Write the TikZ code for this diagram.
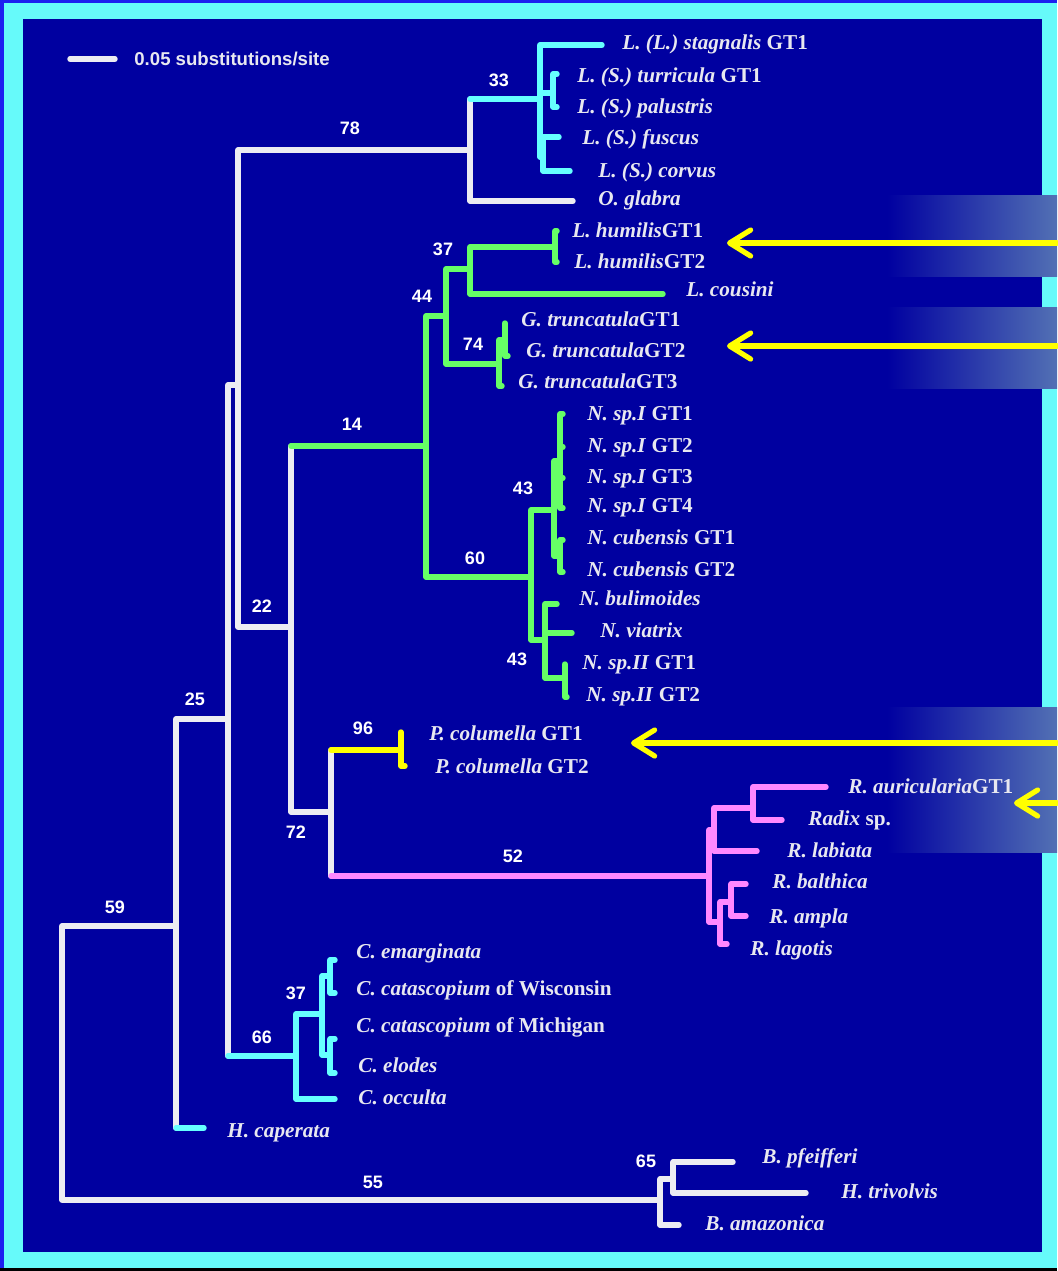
\documentclass[tikz,border=0pt]{standalone}
\usepackage{xcolor}
\usepackage{fontspec}
\setmainfont{Liberation Serif}
\setsansfont{Liberation Sans}
\usepackage{tikz}
\usetikzlibrary{arrows.meta, calc, positioning}

\definecolor{bgblue}{RGB}{0,0,160}
\definecolor{rimblue}{RGB}{28,32,240}
\definecolor{rimcyan}{RGB}{102,250,250}
\definecolor{hilite}{RGB}{82,112,180}
\definecolor{brwhite}{RGB}{236,236,242}
\definecolor{brcyan}{RGB}{102,255,255}
\definecolor{brgreen}{RGB}{102,255,102}
\definecolor{bryellow}{RGB}{255,255,0}
\definecolor{brpink}{RGB}{255,136,255}
\definecolor{taxtext}{RGB}{232,232,240}

\begin{document}
\begin{tikzpicture}[
    x=0.5pt, y=-0.5pt,
    br/.style={line width=2.7pt, line cap=round, line join=round},
    taxon/.style={anchor=base west, inner sep=0pt, text=taxtext, font=\fontsize{10.6}{12}\selectfont\bfseries},
    boot/.style={inner sep=0pt, text=white, font=\sffamily\bfseries\fontsize{9}{10}\selectfont},
    band/.style={left color=bgblue, right color=hilite},
    pointer/.style={draw=bryellow, line width=2.6pt, line cap=round, ->},
    >={Straight Barb[length=10.5pt, width=13pt, round]}
]
\useasboundingbox (0,0) rectangle (1057,1271);

% Frame
\fill[black] (0,0) rectangle (1057,1271);
\fill[rimblue] (0,0) rectangle (1057,1268);
\fill[rimcyan] (4,3) rectangle (1057,1268);
\fill[bgblue] (23,19) rectangle (1042,1252);

% Highlight bands
\shade[band] (887,195) rectangle (1057,276);
\shade[band] (887,307) rectangle (1057,388);
\shade[band] (887,707) rectangle (1057,852);

% Scale bar
\coordinate (sb1) at (70,59);
\coordinate (sb2) at (115,59);
\draw[br, brwhite] (sb1) -- (sb2);
\node[anchor=base west, inner sep=0pt, text=taxtext, font=\sffamily\bfseries\fontsize{9.3}{11}\selectfont] (sbtext) at (134,65) {0.05 substitutions/site};

% Backbone
\coordinate (root) at (62,1063);
\coordinate (n59) at (176,926);
\coordinate (n55) at (660,1200);
\coordinate (n25) at (228,719);
\coordinate (hcap) at (204,1128);
\coordinate (nA) at (238,385);
\coordinate (n66) at (296,1056);
\coordinate (n78) at (470,150);
\coordinate (n22) at (291,627);
\coordinate (n14) at (426,446);
\coordinate (n72) at (331,812);
\coordinate (n96) at (401,750);
\coordinate (n52) at (709,876);

\draw[br, brwhite] (root |- n59) -- (root |- n55) (root |- n59) -- (n59) (root |- n55) -- (n55);
\draw[br, brwhite] (n59 |- n25) -- (n59 |- hcap) (n59 |- n25) -- (n25);
\draw[br, brcyan] (n59 |- hcap) -- (hcap);
\draw[br, brwhite] (n25 |- nA) -- (n25 |- n66) (n25 |- nA) -- (nA);
\draw[br, brcyan] (n25 |- n66) -- (n66);
\draw[br, brwhite] (nA |- n78) -- (nA |- n22) (nA |- n78) -- (n78) (nA |- n22) -- (n22);
\draw[br, brwhite] (n22 |- n14) -- (n22 |- n72) -- (n72);
\draw[br, brgreen] (n22 |- n14) -- (n14);
\draw[br, brwhite] (n72 |- n96) -- (n72 |- n52);
\draw[br, bryellow] (n72 |- n96) -- (n96);
\draw[br, brpink] (n72 |- n52) -- (n52);

% Top clade (78)
\coordinate (n33) at (540,99);
\coordinate (glab) at (573,201);
\coordinate (stag) at (602,45);
\coordinate (nturr) at (553,93);
\coordinate (turr) at (557,74);
\coordinate (palu) at (557,107);
\coordinate (nfusc) at (543,157);
\coordinate (fusc) at (559,137);
\coordinate (corv) at (570,171);

\draw[br, brwhite] (n78 |- n33) -- (n78 |- glab) -- (glab);
\draw[br, brcyan] (n78 |- n33) -- (n33);
\draw[br, brcyan] (n33 |- stag) -- (stag) (n33 |- stag) -- (n33 |- nfusc) -- (nfusc) (n33 |- nturr) -- (nturr);
\draw[br, brcyan] (nturr |- turr) -- (turr) (nturr |- turr) -- (nturr |- palu) -- (palu);
\draw[br, brcyan] (nfusc |- fusc) -- (fusc) (nfusc |- fusc) -- (nfusc |- corv) -- (corv);

% Green clade (14)
\coordinate (n44) at (446,316);
\coordinate (n60) at (531,577);
\coordinate (n37) at (470,269);
\coordinate (n74) at (499,364);
\coordinate (nhum) at (555,247);
\coordinate (hum1) at (557,231);
\coordinate (hum2) at (557,262);
\coordinate (cous) at (663,294);
\coordinate (ntru) at (505,340);
\coordinate (tru1) at (505,323);
\coordinate (tru2) at (508,356);
\coordinate (tru3) at (502,386);
\coordinate (n43a) at (554,510);
\coordinate (nspI) at (560,461);
\coordinate (spI1) at (563,414);
\coordinate (spI2) at (563,447);
\coordinate (spI3) at (563,478);
\coordinate (spI4) at (563,508);
\coordinate (ncub) at (560,556);
\coordinate (cub1) at (563,540);
\coordinate (cub2) at (563,572);
\coordinate (n43b) at (545,640);
\coordinate (bul) at (557,604);
\coordinate (via) at (572,633);
\coordinate (nspII) at (565,678);
\coordinate (spII1) at (565,664);
\coordinate (spII2) at (567,697);

\draw[br, brgreen] (n14 |- n44) -- (n14 |- n60) -- (n60) (n14 |- n44) -- (n44);
\draw[br, brgreen] (n44 |- n37) -- (n44 |- n74) -- (n74) (n44 |- n37) -- (n37);
\draw[br, brgreen] (n37 |- nhum) -- (n37 |- cous) -- (cous) (n37 |- nhum) -- (nhum);
\draw[br, brgreen] (nhum |- hum1) -- (nhum |- hum2) -- (hum2) (nhum |- hum1) -- (hum1);
\draw[br, brgreen] (n74 |- ntru) -- (n74 |- tru3) -- (tru3) (n74 |- ntru) -- (ntru);
\draw[br, brgreen] (ntru |- tru1) -- (ntru |- tru2) -- (tru2) (ntru |- tru1) -- (tru1);
\draw[br, brgreen] (n60 |- n43a) -- (n60 |- n43b) -- (n43b) (n60 |- n43a) -- (n43a);
\draw[br, brgreen] (n43a |- nspI) -- (n43a |- ncub) -- (ncub) (n43a |- nspI) -- (nspI);
\draw[br, brgreen] (nspI |- spI1) -- (nspI |- spI4) -- (spI4) (nspI |- spI1) -- (spI1) (nspI |- spI2) -- (spI2) (nspI |- spI3) -- (spI3);
\draw[br, brgreen] (ncub |- cub1) -- (ncub |- cub2) -- (cub2) (ncub |- cub1) -- (cub1);
\draw[br, brgreen] (n43b |- bul) -- (n43b |- nspII) -- (nspII) (n43b |- bul) -- (bul) (n43b |- via) -- (via);
\draw[br, brgreen] (nspII |- spII1) -- (nspII |- spII2) -- (spII2) (nspII |- spII1) -- (spII1);

% P. columella (96)
\coordinate (pcol1) at (401,732);
\coordinate (pcol2) at (405,766);
\draw[br, bryellow] (n96 |- pcol1) -- (n96 |- pcol2) -- (pcol2);

% Radix clade (52)
\coordinate (nRa) at (714,830);
\coordinate (nRr) at (753,808);
\coordinate (raur) at (826,787);
\coordinate (radx) at (782,820);
\coordinate (rlab) at (757,851);
\coordinate (nRb) at (720,922);
\coordinate (nRbb) at (731,902);
\coordinate (rbal) at (746,884);
\coordinate (ramp) at (746,916);
\coordinate (rlag) at (727,944);

\draw[br, brpink] (n52 |- nRa) -- (n52 |- nRb) -- (nRb) (n52 |- nRa) -- (nRa);
\draw[br, brpink] (nRa |- nRr) -- (nRa |- rlab) -- (rlab) (nRa |- nRr) -- (nRr);
\draw[br, brpink] (nRr |- raur) -- (nRr |- radx) -- (radx) (nRr |- raur) -- (raur);
\draw[br, brpink] (nRb |- nRbb) -- (nRb |- rlag) -- (rlag) (nRb |- nRbb) -- (nRbb);
\draw[br, brpink] (nRbb |- rbal) -- (nRbb |- ramp) -- (ramp) (nRbb |- rbal) -- (rbal);

% C. clade (66)
\coordinate (n37c) at (322,1014);
\coordinate (occ) at (335,1099);
\coordinate (ncu) at (330,976);
\coordinate (cema) at (335,960);
\coordinate (cwis) at (335,993);
\coordinate (ncl) at (330,1055);
\coordinate (cmic) at (335,1039);
\coordinate (celo) at (335,1073);

\draw[br, brcyan] (n66 |- n37c) -- (n66 |- occ) -- (occ) (n66 |- n37c) -- (n37c);
\draw[br, brcyan] (n37c |- ncu) -- (n37c |- ncl) -- (ncl) (n37c |- ncu) -- (ncu);
\draw[br, brcyan] (ncu |- cema) -- (ncu |- cwis) -- (cwis) (ncu |- cema) -- (cema);
\draw[br, brcyan] (ncl |- cmic) -- (ncl |- celo) -- (celo) (ncl |- cmic) -- (cmic);

% Outgroup (55)
\coordinate (n65) at (673,1179);
\coordinate (bama) at (679,1225);
\coordinate (bpfe) at (733,1162);
\coordinate (htri) at (806,1193);

\draw[br, brwhite] (n55 |- n65) -- (n55 |- bama) -- (bama) (n55 |- n65) -- (n65);
\draw[br, brwhite] (n65 |- bpfe) -- (n65 |- htri) -- (htri) (n65 |- bpfe) -- (bpfe);

% Taxon labels
\node[taxon] (tstag) at (622,49) {\textit{L. (L.) stagnalis} GT1};
\node[taxon] (tturr) at (577,82) {\textit{L. (S.) turricula} GT1};
\node[taxon] (tpalu) at (577,113) {\textit{L. (S.) palustris}};
\node[taxon] (tfusc) at (582,144) {\textit{L. (S.) fuscus}};
\node[taxon] (tcorv) at (598,177) {\textit{L. (S.) corvus}};
\node[taxon] (tglab) at (598,205) {\textit{O. glabra}};
\node[taxon] (thum1) at (572,237) {\textit{L. humilis}GT1};
\node[taxon] (thum2) at (574,268) {\textit{L. humilis}GT2};
\node[taxon] (tcous) at (686,296) {\textit{L. cousini}};
\node[taxon] (ttru1) at (521,326) {\textit{G. truncatula}GT1};
\node[taxon] (ttru2) at (526,357) {\textit{G. truncatula}GT2};
\node[taxon] (ttru3) at (518,388) {\textit{G. truncatula}GT3};
\node[taxon] (tspI1) at (587,420) {\textit{N. sp.I} GT1};
\node[taxon] (tspI2) at (587,452) {\textit{N. sp.I} GT2};
\node[taxon] (tspI3) at (587,483) {\textit{N. sp.I} GT3};
\node[taxon] (tspI4) at (587,512) {\textit{N. sp.I} GT4};
\node[taxon] (tcub1) at (587,544) {\textit{N. cubensis} GT1};
\node[taxon] (tcub2) at (587,576) {\textit{N. cubensis} GT2};
\node[taxon] (tbul) at (579,605) {\textit{N. bulimoides}};
\node[taxon] (tvia) at (600,637) {\textit{N. viatrix}};
\node[taxon] (tspII1) at (582,669) {\textit{N. sp.II} GT1};
\node[taxon] (tspII2) at (586,701) {\textit{N. sp.II} GT2};
\node[taxon] (tpcol1) at (429,740) {\textit{P. columella} GT1};
\node[taxon] (tpcol2) at (435,773) {\textit{P. columella} GT2};
\node[taxon] (traur) at (848,793) {\textit{R. auricularia}GT1};
\node[taxon] (tradx) at (808,825) {\textit{Radix} sp.};
\node[taxon] (trlab) at (787,857) {\textit{R. labiata}};
\node[taxon] (trbal) at (772,888) {\textit{R. balthica}};
\node[taxon] (tramp) at (769,923) {\textit{R. ampla}};
\node[taxon] (trlag) at (750,955) {\textit{R. lagotis}};
\node[taxon] (tcema) at (356,958) {\textit{C. emarginata}};
\node[taxon] (tcwis) at (356,995) {\textit{C. catascopium} of Wisconsin};
\node[taxon] (tcmic) at (356,1032) {\textit{C. catascopium} of Michigan};
\node[taxon] (tcelo) at (358,1072) {\textit{C. elodes}};
\node[taxon] (tocc) at (358,1104) {\textit{C. occulta}};
\node[taxon] (thcap) at (227,1137) {\textit{H. caperata}};
\node[taxon] (tbpfe) at (762,1163) {\textit{B. pfeifferi}};
\node[taxon] (thtri) at (841,1198) {\textit{H. trivolvis}};
\node[taxon] (tbama) at (705,1230) {\textit{B. amazonica}};

% Bootstrap values
\node[boot] (b33) at (499,80) {33};
\node[boot] (b78) at (350,128) {78};
\node[boot] (b37) at (443,249) {37};
\node[boot] (b44) at (422,296) {44};
\node[boot] (b74) at (473,344) {74};
\node[boot] (b14) at (352,424) {14};
\node[boot] (b43a) at (523,488) {43};
\node[boot] (b60) at (475,558) {60};
\node[boot] (b22) at (262,606) {22};
\node[boot] (b43b) at (517,659) {43};
\node[boot] (b25) at (195,699) {25};
\node[boot] (b96) at (363,728) {96};
\node[boot] (b72) at (296,832) {72};
\node[boot] (b52) at (513,856) {52};
\node[boot] (b59) at (115,907) {59};
\node[boot] (b37c) at (296,993) {37};
\node[boot] (b66) at (262,1037) {66};
\node[boot] (b65) at (646,1161) {65};
\node[boot] (b55) at (373,1182) {55};

% Pointers to the new genotypes
\coordinate (p1) at (1057,243);
\coordinate (p1tip) at (727,243);
\coordinate (p2) at (1057,346);
\coordinate (p2tip) at (727,346);
\coordinate (p3) at (1057,743);
\coordinate (p3tip) at (631,743);
\coordinate (p4) at (1057,803);
\coordinate (p4tip) at (1014,803);
\draw[pointer] (p1) -- (p1tip);
\draw[pointer] (p2) -- (p2tip);
\draw[pointer] (p3) -- (p3tip);
\draw[pointer] (p4) -- (p4tip);

\end{tikzpicture}
\end{document}
